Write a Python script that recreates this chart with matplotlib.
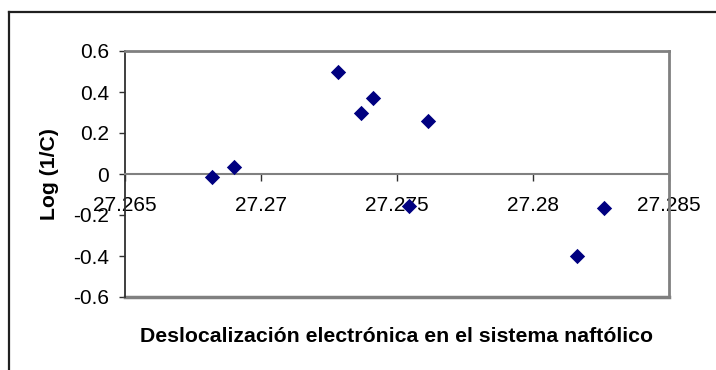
import matplotlib
matplotlib.use("Agg")
import matplotlib.pyplot as plt
from matplotlib.lines import Line2D

plt.rcParams['font.family'] = ['Liberation Sans', 'DejaVu Sans']

# Data
deslocalizacion = [27.26819, 27.26901, 27.27282, 27.27368, 27.27413,
                   27.27615, 27.27543, 27.28261, 27.28160]
log_inv_c = [-0.013, 0.036, 0.50, 0.298, 0.371, 0.257, -0.155, -0.164, -0.40]

x_ticks = [27.265, 27.27, 27.275, 27.28, 27.285]
x_labels = ["27.265", "27.27", "27.275", "27.28", "27.285"]
y_ticks = [-0.6, -0.4, -0.2, 0, 0.2, 0.4, 0.6]
y_labels = ["-0.6", "-0.4", "-0.2", "0", "0.2", "0.4", "0.6"]

W, H = 716, 370
fig = plt.figure(figsize=(W / 100, H / 100), dpi=100)
fig.patch.set_facecolor("white")

# Outer chart border (only left and top visible in the crop)
fig.add_artist(Line2D([8.5 / W, 8.5 / W], [0, 1 - 12 / H], transform=fig.transFigure,
                      color="#202020", lw=1.6))
fig.add_artist(Line2D([8.5 / W, 1], [1 - 12 / H, 1 - 12 / H], transform=fig.transFigure,
                      color="#202020", lw=1.6))

left, right, top, bottom = 125, 669, 51, 297
ax = fig.add_axes([left / W, 1 - bottom / H, (right - left) / W, (bottom - top) / H])

ax.scatter(deslocalizacion, log_inv_c, marker="D", s=7.8 ** 2, color="#000080",
           linewidths=0, zorder=3, clip_on=False)

ax.set_xlim(27.265, 27.285)
ax.set_ylim(-0.6, 0.6)
ax.set_xticks(x_ticks)
ax.set_xticklabels(x_labels)
ax.set_yticks(y_ticks)
ax.set_yticklabels(y_labels)

gray = "#808080"
ax.spines["bottom"].set_position(("data", 0))
ax.spines["bottom"].set_color(gray)
ax.spines["bottom"].set_linewidth(1.5)
ax.spines["top"].set_color(gray)
ax.spines["top"].set_linewidth(2)
ax.spines["right"].set_color(gray)
ax.spines["right"].set_linewidth(2)
ax.spines["left"].set_color("#303030")
ax.spines["left"].set_linewidth(1.3)
ax.axhline(-0.6, color=gray, lw=2.5, clip_on=False, zorder=2)

ax.tick_params(axis="x", direction="out", length=5, width=1, color="#303030",
               pad=11, labelsize=15)
ax.tick_params(axis="y", direction="out", length=4.5, width=1, color="#303030",
               pad=7, labelsize=15)

ax.set_xlabel("Deslocalización electrónica en el sistema naftólico",
              fontsize=15.3, fontweight="bold")
ax.xaxis.set_label_coords(0.499, -0.122)
ax.set_ylabel("Log (1/C)", fontsize=15.3, fontweight="bold")
ax.yaxis.set_label_coords(-0.121, 0.5)

fig.savefig("out.png", dpi=100)
